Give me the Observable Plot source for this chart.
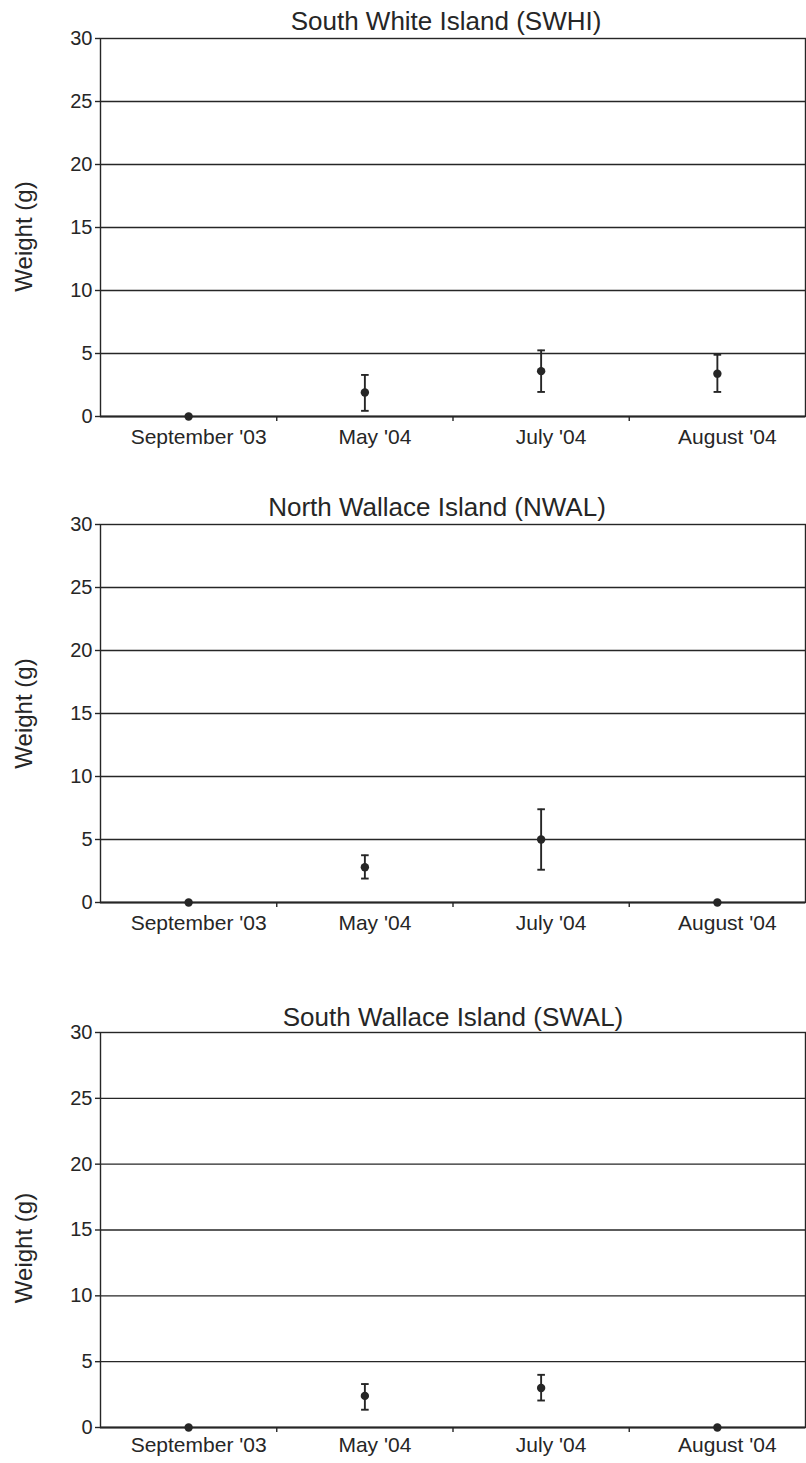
<!DOCTYPE html>
<html>
<head>
<meta charset="utf-8">
<script src="https://cdn.jsdelivr.net/npm/d3@7"></script>
<script src="https://cdn.jsdelivr.net/npm/@observablehq/plot@0.6"></script>
<style>
  html, body { margin: 0; padding: 0; background: #fff; }
  #wrap { position: relative; width: 806px; height: 1463px; overflow: hidden; }
  #wrap > div { position: absolute; left: 0; }
  svg { font-family: "Liberation Sans", Arial, sans-serif; }
</style>
</head>
<body>
<div id="wrap">
  <div id="p1" style="top:0px"></div>
  <div id="p2" style="top:474px"></div>
  <div id="p3" style="top:982px"></div>
</div>
<script>
// ---- data ----
const months = ["September '03", "May '04", "July '04", "August '04"];
const yTicks = [0, 5, 10, 15, 20, 25, 30];

const swhiTitle = "South White Island (SWHI)";
const swhiMean = [0, 1.9, 3.6, 3.4];
const swhiLow  = [null, 0.45, 1.95, 1.95];
const swhiHigh = [null, 3.3, 5.25, 4.9];

const nwalTitle = "North Wallace Island (NWAL)";
const nwalMean = [0, 2.8, 5.0, 0];
const nwalLow  = [null, 1.9, 2.6, null];
const nwalHigh = [null, 3.75, 7.4, null];

const swalTitle = "South Wallace Island (SWAL)";
const swalMean = [0, 2.4, 3.0, 0];
const swalLow  = [null, 1.35, 2.05, null];
const swalHigh = [null, 3.3, 4.0, null];

const yLabel = "Weight (g)";

// ---- drawing ----
const ink = "#262626";
const capSymbol = {
  draw(context, size) {
    const r = Math.sqrt(size / Math.PI);
    context.moveTo(-r, 0);
    context.lineTo(r, 0);
  }
};

function panel({title, mean, low, high, marginTop, frameH, marginBottom, titleDy, titleDx, labelPad, yLabelDy}) {
  const rows = months.map((m, i) => ({i: i + 0.5, m, v: mean[i], lo: low[i], hi: high[i]}));
  const err = rows.filter(d => d.lo != null && d.hi != null);
  return Plot.plot({
    width: 806,
    height: marginTop + frameH + marginBottom,
    marginTop,
    marginBottom,
    marginLeft: 100,
    marginRight: 1,
    style: {background: "white", color: ink, fontFamily: "'Liberation Sans', Arial, sans-serif"},
    x: {domain: [0, months.length], axis: null},
    y: {domain: [0, 30], axis: null},
    marks: [
      Plot.ruleY(yTicks.filter(t => t > 0 && t < 30), {stroke: ink, strokeWidth: 1.4}),
      Plot.frame({stroke: ink, strokeWidth: 1.4}),
      Plot.ruleY([0], {stroke: ink, strokeWidth: 2.2}),
      Plot.axisY({ticks: yTicks, tickSize: 5, tickPadding: 3, fontSize: 20, label: null, stroke: ink, strokeWidth: 1.4}),
      Plot.axisX({ticks: d3.range(1, months.length), tickSize: 5, tickFormat: () => "", label: null, stroke: ink, strokeWidth: 1.4}),
      Plot.axisX({ticks: months.map((m, i) => i + 0.5), tickSize: 0, tickPadding: labelPad, dx: 10,
                  tickFormat: v => months[Math.floor(v)], fontSize: 21, label: null}),
      Plot.ruleX(err, {x: "i", y1: "lo", y2: "hi", stroke: ink, strokeWidth: 1.9}),
      Plot.dot(err, {x: "i", y: "lo", symbol: capSymbol, r: 3.8, stroke: ink, strokeWidth: 1.9, fill: "none"}),
      Plot.dot(err, {x: "i", y: "hi", symbol: capSymbol, r: 3.8, stroke: ink, strokeWidth: 1.9, fill: "none"}),
      Plot.dot(rows, {x: "i", y: "v", r: 4.2, fill: ink, stroke: "none"}),
      Plot.text([title], {frameAnchor: "top", dy: titleDy, dx: titleDx, fontSize: 26, fill: ink, lineAnchor: "middle"}),
      Plot.text([yLabel], {frameAnchor: "left", textAnchor: "middle", lineAnchor: "middle", rotate: -90,
                           dx: -76, dy: yLabelDy, fontSize: 24, fill: ink})
    ]
  });
}

document.getElementById("p1").append(panel({title: swhiTitle, mean: swhiMean, low: swhiLow, high: swhiHigh,
  marginTop: 38, frameH: 378, marginBottom: 40, titleDy: -17, titleDx: -7, labelPad: 13, yLabelDy: 9}));
document.getElementById("p2").append(panel({title: nwalTitle, mean: nwalMean, low: nwalLow, high: nwalHigh,
  marginTop: 50, frameH: 378, marginBottom: 40, titleDy: -17, titleDx: -16, labelPad: 13, yLabelDy: 0}));
document.getElementById("p3").append(panel({title: swalTitle, mean: swalMean, low: swalLow, high: swalHigh,
  marginTop: 50, frameH: 395, marginBottom: 34, titleDy: -15, titleDx: 0, labelPad: 10, yLabelDy: 18}));
</script>
</body>
</html>
